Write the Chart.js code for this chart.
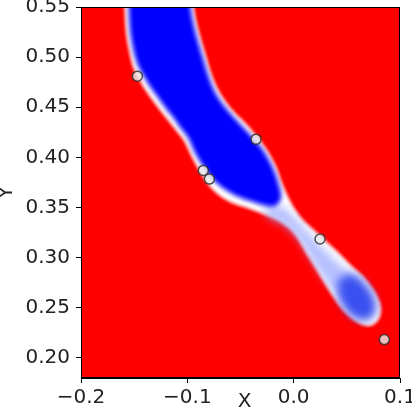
<!DOCTYPE html>
<html>
<head>
<meta charset="utf-8">
<script src="https://cdn.jsdelivr.net/npm/chart.js@4.4.0/dist/chart.umd.min.js"></script>
<style>
  html, body { margin: 0; padding: 0; background: #fff; }
  #wrap { width: 412px; height: 407px; position: relative; }
</style>
</head>
<body>
<div id="wrap"><canvas id="regionChart"></canvas></div>
<script>
// sample points drawn on top of the map
const pointX = [-0.147, -0.0354, -0.085, -0.0793, 0.0248, 0.0853];
const pointY = [0.481, 0.418, 0.387, 0.3784, 0.3186, 0.2183];

// outer edge of the region (where red turns white)
const edgeX = [-0.159, -0.1586, -0.1572, -0.1539, -0.1506, -0.1459, -0.1408, -0.1323, -0.1238, -0.1163,
  -0.1097, -0.1031, -0.0956, -0.0900, -0.0843, -0.0777, -0.0693, -0.0580, -0.0439, -0.0288,
  -0.0138, -0.0025, 0.0050, 0.0116, 0.0191, 0.0276, 0.0370, 0.0464, 0.0567, 0.0662,
  0.0737, 0.0793, 0.0817, 0.0803, 0.0746, 0.0652, 0.0539, 0.0417, 0.0295, 0.0191,
  0.0088, 0.0003, -0.0063, -0.0119, -0.0166, -0.0241, -0.0335, -0.0448, -0.0561, -0.0646,
  -0.0721, -0.0777, -0.0834, -0.0890, -0.0937, -0.0951];
const edgeY = [0.567, 0.549, 0.524, 0.504, 0.490, 0.480, 0.470, 0.457, 0.445, 0.435,
  0.426, 0.417, 0.401, 0.390, 0.380, 0.370, 0.362, 0.355, 0.350, 0.344,
  0.337, 0.328, 0.318, 0.306, 0.293, 0.278, 0.262, 0.248, 0.238, 0.233,
  0.233, 0.238, 0.247, 0.256, 0.268, 0.281, 0.292, 0.305, 0.317, 0.327,
  0.337, 0.349, 0.362, 0.376, 0.390, 0.405, 0.419, 0.433, 0.445, 0.456,
  0.469, 0.483, 0.503, 0.523, 0.545, 0.567];

// solid blue core (upper lobe)
const coreX = [-0.1545, -0.1545, -0.1531, -0.1498, -0.1460, -0.1404, -0.1347, -0.1272, -0.1197, -0.1122,
  -0.1056, -0.0990, -0.0924, -0.0868, -0.0811, -0.0745, -0.0651, -0.0538, -0.0407, -0.0285,
  -0.0176, -0.0123, -0.0151, -0.0198, -0.0273, -0.0367, -0.0480, -0.0593, -0.0678, -0.0753,
  -0.0809, -0.0866, -0.0922, -0.0969, -0.0983];
const coreY = [0.567, 0.549, 0.524, 0.505, 0.492, 0.481, 0.471, 0.460, 0.449, 0.439,
  0.429, 0.420, 0.405, 0.395, 0.386, 0.377, 0.369, 0.362, 0.357, 0.353,
  0.352, 0.360, 0.375, 0.389, 0.404, 0.417, 0.430, 0.443, 0.454, 0.467,
  0.482, 0.502, 0.522, 0.545, 0.567];

// pale blue neck between the lobes
const neckX = [-0.0270, -0.0110, -0.0016, 0.0107, 0.0229, 0.0361, 0.0483, 0.0600, 0.0500, 0.0379,
  0.0266, 0.0172, 0.0088, 0.0003, -0.0110, -0.0241, -0.0270];
const neckY = [0.352, 0.350, 0.342, 0.328, 0.314, 0.300, 0.288, 0.275, 0.258, 0.268,
  0.283, 0.298, 0.312, 0.324, 0.334, 0.341, 0.352];

// lower lobe
const lobeX = [0.0420, 0.0520, 0.0640, 0.0730, 0.0772, 0.0728, 0.0630, 0.0515, 0.0435, 0.0420];
const lobeY = [0.276, 0.283, 0.277, 0.265, 0.251, 0.240, 0.238, 0.245, 0.259, 0.276];

const xTicks = [-0.2, -0.1, 0.0, 0.1];
const xTickLabels = ['\u22120.2', '\u22120.1', '0.0', '0.1'];
const yTicks = [0.20, 0.25, 0.30, 0.35, 0.40, 0.45, 0.50, 0.55];
const yTickLabels = ['0.20', '0.25', '0.30', '0.35', '0.40', '0.45', '0.50', '0.55'];

function zip(xs, ys) {
  return xs.map((x, i) => ({ x: x, y: ys[i] }));
}

// polygon dataset helper
function area(label, xs, ys, color, blur, order) {
  return {
    label: label,
    data: zip(xs, ys),
    showLine: true,
    fill: 'shape',
    backgroundColor: color,
    borderColor: color,
    borderWidth: 1,
    pointRadius: 0,
    tension: 0.3,
    blur: blur,
    order: order
  };
}

// no extra room for labels hanging over the ends of the axes
function noPadding(s) {
  s.paddingTop = 0;
  s.paddingBottom = 0;
  s.paddingLeft = 0;
  s.paddingRight = 0;
}

// red background, blur per layer, frame and axis titles
const mapPlugin = {
  id: 'mapPlugin',
  beforeDatasetsDraw(chart) {
    const ca = chart.chartArea;
    const ctx = chart.ctx;
    ctx.save();
    ctx.fillStyle = '#ff0000';
    ctx.fillRect(ca.left, ca.top, ca.right - ca.left, ca.bottom - ca.top);
    ctx.restore();
    const metas = chart.getSortedVisibleDatasetMetas();
    const first = metas[metas.length - 1];
    const b = chart.data.datasets[first.index].blur;
    ctx.filter = b ? 'blur(' + b + 'px)' : 'none';
  },
  afterDatasetDraw(chart, args) {
    const metas = chart.getSortedVisibleDatasetMetas();
    const idx = metas.indexOf(args.meta);
    const next = metas[idx - 1];
    const b = next ? chart.data.datasets[next.index].blur : 0;
    chart.ctx.filter = b ? 'blur(' + b + 'px)' : 'none';
  },
  afterDatasetsDraw(chart) {
    const ca = chart.chartArea;
    const ctx = chart.ctx;
    ctx.filter = 'none';
    ctx.save();
    ctx.strokeStyle = '#000';
    ctx.lineWidth = 1;
    ctx.strokeRect(ca.left + 0.5, ca.top + 0.5, ca.right - ca.left - 1, ca.bottom - ca.top - 1);
    ctx.restore();
  },
  afterDraw(chart) {
    const ca = chart.chartArea;
    const ctx = chart.ctx;
    ctx.save();
    ctx.fillStyle = '#222';
    ctx.font = '20px "DejaVu Sans"';
    ctx.textAlign = 'center';
    ctx.textBaseline = 'middle';
    ctx.fillText('X', (ca.left + ca.right) / 2 + 4, ca.bottom + 24);
    ctx.translate(7, (ca.top + ca.bottom) / 2);
    ctx.rotate(-Math.PI / 2);
    ctx.fillText('Y', 0, 0);
    ctx.restore();
  }
};

Chart.defaults.font.family = '"DejaVu Sans"';
Chart.defaults.font.size = 20;
Chart.defaults.color = '#222';

const ctx = document.getElementById('regionChart').getContext('2d');
new Chart(ctx, {
  type: 'scatter',
  data: {
    datasets: [
      {
        label: 'samples',
        data: zip(pointX, pointY),
        pointRadius: 5,
        pointBackgroundColor: 'rgba(235,235,235,0.8)',
        pointBorderColor: 'rgba(40,40,40,0.8)',
        pointBorderWidth: 1.5,
        blur: 0,
        order: 0
      },
      area('core', coreX, coreY, '#0000ff', 2, 1),
      area('lobe', lobeX, lobeY, '#3a50f0', 4, 2),
      area('neck', neckX, neckY, 'rgba(150,165,255,0.7)', 4, 3),
      area('edge', edgeX, edgeY, '#ffffff', 1.5, 4)
    ]
  },
  options: {
    responsive: true,
    maintainAspectRatio: false,
    animation: false,
    events: [],
    layout: { autoPadding: false, padding: { top: 7, right: 12, bottom: 0, left: 0 } },
    plugins: { legend: { display: false }, tooltip: { enabled: false } },
    scales: {
      x: {
        type: 'linear',
        min: -0.2,
        max: 0.1,
        afterBuildTicks: s => { s.ticks = xTicks.map(v => ({ value: v })); },
        afterFit: s => { s.height = 29; noPadding(s); },
        ticks: {
          padding: 3,
          maxRotation: 0,
          autoSkip: false,
          callback: (v, i) => xTickLabels[i]
        },
        grid: { drawOnChartArea: false, tickLength: 5, color: '#000', tickColor: '#000' },
        border: { display: true, color: '#000' }
      },
      y: {
        type: 'linear',
        min: 0.18,
        max: 0.55,
        afterBuildTicks: s => { s.ticks = yTicks.map(v => ({ value: v })); },
        afterFit: s => { s.width = 81; noPadding(s); },
        ticks: {
          padding: 6,
          autoSkip: false,
          callback: (v, i) => yTickLabels[i]
        },
        grid: { drawOnChartArea: false, tickLength: 5, color: '#000', tickColor: '#000' },
        border: { display: true, color: '#000' }
      }
    }
  },
  plugins: [mapPlugin]
});
</script>
</body>
</html>
